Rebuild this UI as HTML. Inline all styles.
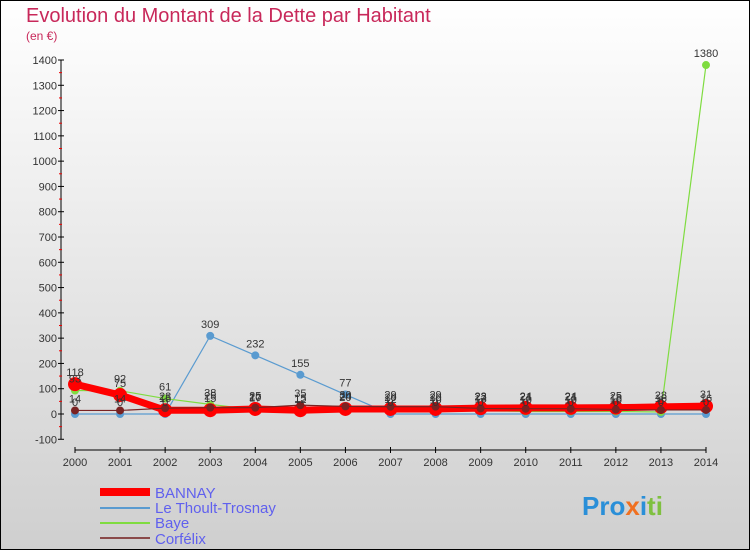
<!DOCTYPE html>
<html><head><meta charset="utf-8"><style>
body{margin:0}
svg{display:block;font-family:"Liberation Sans",sans-serif}
</style></head><body>
<svg id="c" width="750" height="550">
<defs><linearGradient id="bg" x1="0" y1="0" x2="0" y2="1"><stop offset="0" stop-color="#ffffff"/><stop offset="1" stop-color="#cfcfcf"/></linearGradient></defs>
<rect x="0.5" y="0.5" width="749" height="549" fill="url(#bg)" stroke="#000"/>
<text x="26" y="22" font-size="20" fill="#c8285a">Evolution du Montant de la Dette par Habitant</text>
<text x="26" y="40" font-size="12" fill="#c8285a">(en €)</text>
<g id="axes"></g><g id="series"></g><g id="labels"></g>
<g>
<line x1="100" y1="492" x2="150" y2="492" stroke="#f00" stroke-width="8"/>
<text x="155" y="498" font-size="15" fill="#6060ee">BANNAY</text>
<line x1="100" y1="508" x2="150" y2="508" stroke="#5a9bd0" stroke-width="2"/>
<text x="155" y="513" font-size="15" fill="#6060ee">Le Thoult-Trosnay</text>
<line x1="100" y1="523" x2="150" y2="523" stroke="#7fdc40" stroke-width="2"/>
<text x="155" y="528" font-size="15" fill="#6060ee">Baye</text>
<line x1="100" y1="538" x2="150" y2="538" stroke="#8a4a4a" stroke-width="2"/>
<text x="155" y="544" font-size="15" fill="#6060ee">Corfélix</text>
</g>
<text x="582" y="515" font-size="26" font-weight="bold" fill="#2a8fd8">Pro<tspan fill="#f07020">x</tspan>i<tspan fill="#7fc040">ti</tspan></text>
</svg>
<script>
const years=[2000,2001,2002,2003,2004,2005,2006,2007,2008,2009,2010,2011,2012,2013,2014];
const yTicks=[-100,0,100,200,300,400,500,600,700,800,900,1000,1100,1200,1300,1400];
const bannay=[118,75,15,15,20,15,20,20,20,23,24,24,25,28,31];
const thoult=[0,0,0,309,232,155,77,0,0,0,0,0,0,0,0];
const baye=[93,92,61,38,17,12,24,12,10,13,10,10,10,8,1380];
const corfelix=[14,14,23,25,25,35,30,29,29,22,21,21,18,16,16];
const NS='http://www.w3.org/2000/svg';
const xS=i=>75+i*(706-75)/14;
const yS=v=>414-v*(414-60)/1400;
function mk(tag,at,parent){const e=document.createElementNS(NS,tag);for(const k in at)e.setAttribute(k,at[k]);document.getElementById(parent).appendChild(e);return e;}
let e=mk('line',{x1:61,y1:yS(1400),x2:61,y2:yS(-100),stroke:'#000'},'axes');


e=mk('line',{x1:75,y1:450,x2:706,y2:450,stroke:'#000'},'axes');


yTicks.forEach(v=>{
 mk('line',{x1:58,y1:yS(v),x2:64,y2:yS(v),stroke:'#000'},'axes');
 if(v<1400)mk('line',{x1:59,y1:yS(v+50),x2:62,y2:yS(v+50),stroke:'#e00'},'axes');
 const t=mk('text',{x:57,y:yS(v)+4,'font-size':11,'text-anchor':'end',fill:'#333'},'axes');
 t.textContent=v;
 
 
});
years.forEach((y,i)=>{
 mk('line',{x1:xS(i),y1:447,x2:xS(i),y2:453,stroke:'#000'},'axes');
 const t=mk('text',{x:xS(i),y:466,'font-size':11,'text-anchor':'middle',fill:'#333'},'axes');
 t.textContent=y;
 
 
});
function series(vals,color,w,r,name){
 const p=mk('polyline',{points:vals.map((v,i)=>xS(i)+','+yS(v)).join(' '),fill:'none',stroke:color,'stroke-width':w},'series');
 
 
 vals.forEach((v,i)=>{
  const c=mk('circle',{cx:xS(i),cy:yS(v),r:r,fill:color},'series');
  
  
  const t=mk('text',{x:xS(i),y:yS(v)-8,'font-size':11,'text-anchor':'middle',fill:'#333'},'labels');
  t.textContent=v;
  
  
 });
}
series(thoult,'#5a9bd0',1.2,4,'thoult');
series(baye,'#7fdc40',1.2,4,'baye');
series(bannay,'#f00',7,7,'bannay');
series(corfelix,'#7a2222',1.2,4,'corfelix');
</script>
</body></html>
